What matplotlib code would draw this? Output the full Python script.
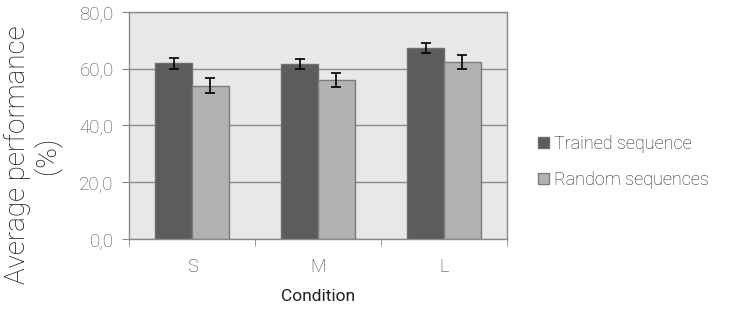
import matplotlib.pyplot as plt
import numpy as np

plt.rcParams['font.family'] = ['Roboto', 'DejaVu Sans']

conditions = ['S', 'M', 'L']
trained = [61.9, 61.6, 67.3]
trained_err = [1.9, 1.8, 1.8]
random_seq = [54.0, 56.0, 62.4]
random_err = [2.6, 2.6, 2.6]
yticks = [0, 20, 40, 60, 80]
ytick_labels = ['0,0', '20,0', '40,0', '60,0', '80,0']

fig = plt.figure(figsize=(7.29, 3.12), dpi=100)
ax = fig.add_axes([129 / 729, 1 - 239 / 312, 378 / 729, 227 / 312])

x = np.arange(len(conditions))
w = 0.29
grid_c = '#8a8a8a'
ax.set_facecolor('#e8e8e8')
ax.set_axisbelow(True)
ax.yaxis.grid(True, color=grid_c, linewidth=1.0)

ekw = dict(capsize=3.5, elinewidth=1.2, capthick=1.2, ecolor='black')
ax.bar(x - w / 2, trained, w, yerr=trained_err, error_kw=ekw,
       color='#5c5c5c', edgecolor='#6e6e6e', linewidth=1, label='Trained sequence')
ax.bar(x + w / 2, random_seq, w, yerr=random_err, error_kw=ekw,
       color='#b2b2b2', edgecolor='#7a7a7a', linewidth=1, label='Random sequences')

ax.set_xlim(-0.5, 2.5)
ax.set_ylim(0, 80)
ax.set_yticks(yticks)
ax.set_yticklabels(ytick_labels)
ax.set_xticks(x)
ax.set_xticklabels(conditions)
ax.set_xticks([-0.5, 0.5, 1.5, 2.5], minor=True)
ax.tick_params(axis='x', which='major', length=0, pad=14, labelsize=13, labelcolor='#333333')
ax.tick_params(axis='x', which='minor', length=5, color=grid_c, direction='out')
ax.tick_params(axis='y', length=5, color=grid_c, labelsize=13.5, labelcolor='#505050', pad=6)

for s in ax.spines.values():
    s.set_color(grid_c)
    s.set_linewidth(1.0)
for t in ax.get_yticklabels() + ax.get_xticklabels():
    t.set_fontweight('light')

ax.set_xlabel('Condition', fontsize=12.5, color='#222222', labelpad=9)
ax.set_ylabel('Average performance\n(%)', fontsize=20, fontweight='light',
              color='#111111', linespacing=1.05)
ax.yaxis.set_label_coords(-0.18, 0.37)

leg = ax.legend(loc='center left', bbox_to_anchor=(1.04, 0.34), frameon=False,
                fontsize=13, handlelength=0.6, handleheight=0.6, handletextpad=0.25,
                labelspacing=1.0)
for t in leg.get_texts():
    t.set_fontweight('light')
    t.set_color('#222222')

fig.savefig('out.png', dpi=100)
